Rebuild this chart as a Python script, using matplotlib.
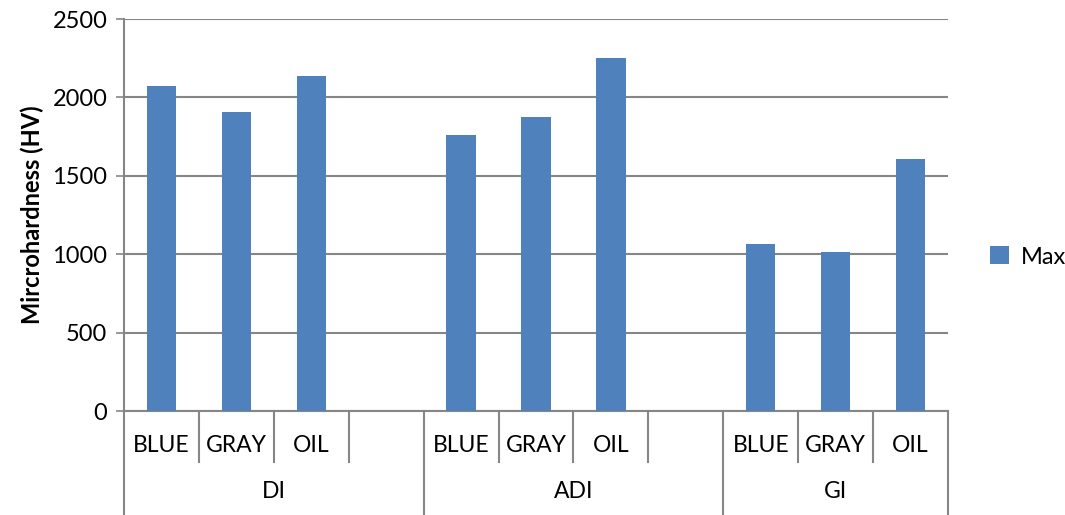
from matplotlib import pyplot as plt
from matplotlib import transforms

# data
groups = ["DI", "ADI", "GI"]
finishes = ["BLUE", "GRAY", "OIL"]
di_max = [2070, 1910, 2135]
adi_max = [1762, 1877, 2252]
gi_max = [1067, 1012, 1607]
y_ticks = [0, 500, 1000, 1500, 2000, 2500]

BAR_COLOR = "#4F81BD"
LINE_COLOR = "#868686"
plt.rcParams['font.family'] = ['Lato', 'DejaVu Sans']

fig = plt.figure(figsize=(10.65, 5.15), dpi=100)
W, H = 1065, 515
left, right, top, bottom = 124, 948, 19, 411
ax = fig.add_axes([left / W, (H - bottom) / H, (right - left) / W, (bottom - top) / H])

# 11 category slots: 3 finishes + 1 blank per group, last group without blank
positions = []
values = []
labels = []
for gi, series in enumerate([di_max, adi_max, gi_max]):
    for fi, v in enumerate(series):
        positions.append(gi * 4 + fi)
        values.append(v)
        labels.append(finishes[fi])

ax.bar(positions, values, width=0.39, color=BAR_COLOR, label="Max", zorder=3)

ax.set_xlim(-0.5, 10.5)
ax.set_ylim(0, 2500)
ax.set_yticks(y_ticks)
ax.set_yticklabels([str(t) for t in y_ticks], fontsize=17)
ax.set_xticks([])
ax.yaxis.grid(True, color=LINE_COLOR, linewidth=1.5, zorder=0)
ax.tick_params(axis='y', direction='out', length=6, color=LINE_COLOR, width=1.2, pad=6)
for s in ["top", "right"]:
    ax.spines[s].set_visible(False)
for s in ["left", "bottom"]:
    ax.spines[s].set_color(LINE_COLOR)
    ax.spines[s].set_linewidth(1.5)

ax.set_ylabel("Mircrohardness (HV)", fontsize=17, fontweight="bold", labelpad=6)

# multi-level category axis
trans = transforms.blended_transform_factory(ax.transData, ax.transAxes)
short_end = (bottom - 462) / (bottom - top)
long_end = (bottom - 520) / (bottom - top)
row1 = (bottom - 446) / (bottom - top)
row2 = (bottom - 492) / (bottom - top)

for x in [0.5, 1.5, 2.5, 4.5, 5.5, 6.5, 8.5, 9.5]:
    ax.plot([x, x], [0, short_end], transform=trans, color=LINE_COLOR,
            linewidth=1.5, clip_on=False)
for x in [-0.5, 3.5, 7.5, 10.5]:
    ax.plot([x, x], [0, long_end], transform=trans, color=LINE_COLOR,
            linewidth=1.5, clip_on=False)

for p, lab in zip(positions, labels):
    ax.text(p, row1, lab, transform=trans, ha="center", va="center", fontsize=16.5)

group_centers = [1.5, 5.5, 9.0]
for c, g in zip(group_centers, groups):
    ax.text(c, row2, g, transform=trans, ha="center", va="center", fontsize=16.5)

fig.legend(loc="center left", bbox_to_anchor=(990 / W, (H - 257) / H), frameon=False,
           fontsize=17, handlelength=0.8, handleheight=0.8, handletextpad=0.5,
           borderaxespad=0, borderpad=0)

fig.savefig("out.png", dpi=100)
